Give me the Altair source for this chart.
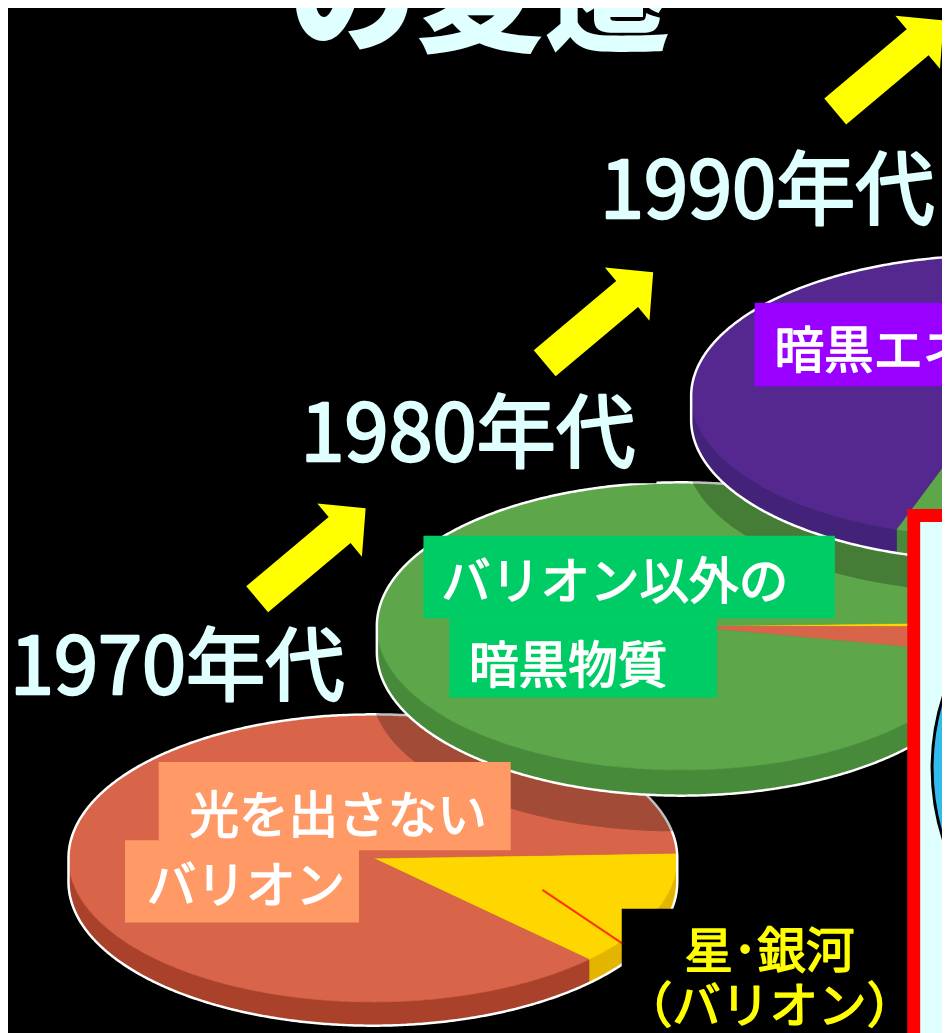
import numpy as np
import pandas as pd
import altair as alt

# ---------------- data ----------------
decades = ["1970年代", "1980年代", "1990年代"]
components = ["星・銀河", "光を出さないバリオン", "バリオン以外の暗黒物質", "暗黒エネルギー"]
share_1970 = [13.0, 87.0, 0.0, 0.0]      # % of the pie
share_1980 = [0.5, 3.0, 96.5, 0.0]
share_1990 = [0.5, 4.5, 25.0, 70.0]
title_tail = "の変遷"
label_dark_baryon = ["光を出さない", "バリオン"]
label_dark_matter = ["バリオン以外の", "暗黒物質"]
label_dark_energy = ["暗黒エネルギー"]
label_stars = ["星･銀河", "（バリオン）"]

shares = [share_1970, share_1980, share_1990]

# ---------------- styles / layout ----------------
TOP = {"星・銀河": "#FFD700", "光を出さないバリオン": "#D8644A",
       "バリオン以外の暗黒物質": "#5DA74A", "暗黒エネルギー": "#55288F"}
SIDE = {"星・銀河": "#E3B400", "光を出さないバリオン": "#A9412B",
        "バリオン以外の暗黒物質": "#468A3A", "暗黒エネルギー": "#43237A"}
PIES = [
    dict(cx=376, cy=861, rx=307, ry=145, depth=24, start=-2.0),
    dict(cx=687, cy=627, rx=307, ry=145, depth=26, start=-1.5),
    dict(cx=1004, cy=395, rx=307, ry=142, depth=24, start=1.0),
]
LIGHT = "#E0FFFF"
FONT = "Noto Sans CJK JP"

XS = alt.Scale(domain=[8, 950], nice=False, zero=False)
YS = alt.Scale(domain=[8, 1033], nice=False, zero=False, reverse=True)


def X(f="x"):
    return alt.X(f"{f}:Q", scale=XS, axis=None)


def Y(f="y"):
    return alt.Y(f"{f}:Q", scale=YS, axis=None)


def arc(p, a0, a1, dy=0.0):
    n = max(2, int(abs(a1 - a0) / 0.5) + 1)
    t = np.radians(np.linspace(a0, a1, n))
    return p["cx"] + p["rx"] * np.cos(t), p["cy"] + p["ry"] * np.sin(t) + dy


def rows(pid, xs, ys, color):
    return [dict(pid=pid, i=j, x=float(a), y=float(b), c=color)
            for j, (a, b) in enumerate(zip(xs, ys))]


def pie_frames(k):
    p = PIES[k]
    vals = np.array(shares[k], dtype=float)
    bounds = p["start"] + 360.0 * np.concatenate([[0], np.cumsum(vals)]) / vals.sum()
    tops, sides = [], []
    for s, comp in enumerate(components):
        if vals[s] <= 0:
            continue
        a0, a1 = bounds[s], bounds[s + 1]
        ax, ay = arc(p, a0, a1)
        tops += rows(f"t{k}{s}", np.r_[p["cx"], ax], np.r_[p["cy"], ay], TOP[comp])
        for off in (-360, 0, 360):
            lo, hi = max(a0 + off, 0), min(a1 + off, 180)
            if hi > lo:
                ux, uy = arc(p, lo, hi)
                bx, by = arc(p, hi, lo, p["depth"])
                sides += rows(f"s{k}{s}{off}", np.r_[ux, bx], np.r_[uy, by], SIDE[comp])
    ux, uy = arc(p, 180, 360)
    bx, by = arc(p, 0, 180, p["depth"])
    outline = rows(f"o{k}", np.r_[ux, bx], np.r_[uy, by], "white")
    return pd.DataFrame(sides), pd.DataFrame(tops), pd.DataFrame(outline)


def poly(df, sw=0.8):
    return alt.Chart(df).mark_line(interpolate="linear-closed", strokeWidth=sw).encode(
        x=X(), y=Y(), detail="pid:N", order="i:Q",
        fill=alt.Fill("c:N", scale=None), stroke=alt.Stroke("c:N", scale=None))


def outline_layer(df):
    return alt.Chart(df).mark_line(interpolate="linear-closed", stroke="white",
                                   strokeWidth=2.5).encode(
        x=X(), y=Y(), detail="pid:N", order="i:Q")


def shadow_layer(df, dx, dy, op):
    d = df.copy()
    d["x"] = d["x"] + dx
    d["y"] = d["y"] + dy
    return alt.Chart(d).mark_line(interpolate="linear-closed", fill="black",
                                  fillOpacity=op, strokeWidth=0).encode(
        x=X(), y=Y(), detail="pid:N", order="i:Q")


def box(x0, x1, y0, y1, color):
    d = pd.DataFrame([dict(x=x0, x2=x1, y=y0, y2=y1)])
    return alt.Chart(d).mark_rect(color=color, opacity=1).encode(
        x=X(), x2="x2:Q", y=Y(), y2="y2:Q")


def text(items, size, color, align="left", weight="bold", thick=0.0):
    d = pd.DataFrame([dict(t=t, x=x, y=y) for t, x, y in items])
    kw = dict(stroke=color, strokeWidth=thick, strokeJoin="round") if thick > 0 else {}
    return alt.Chart(d).mark_text(font=FONT, fontSize=size, fontWeight=weight,
                                  color=color, align=align, baseline="alphabetic",
                                  **kw).encode(
        x=X(), y=Y(), text="t:N")


layers = []
frames = [pie_frames(k) for k in range(3)]
YEAR_SIZE, YEAR_W, YEAR_T = 80, "normal", 2.4

# 1970s pie
s, t, o = frames[0]
layers += [poly(s), poly(t), outline_layer(o)]
layers += [box(0, 368, 612, 715, "black"),
           text([(decades[0], 10, 695)], YEAR_SIZE, LIGHT, weight=YEAR_W, thick=YEAR_T)]

# 1980s pie (casts shadow on 1970s)
s, t, o = frames[1]
layers += [shadow_layer(o, -6, 36, 0.25), poly(s), poly(t), outline_layer(o)]
layers += [box(295, 662, 385, 483, "black"),
           text([(decades[1], 303, 460)], YEAR_SIZE, LIGHT, weight=YEAR_W, thick=YEAR_T)]

# 1990s pie (casts shadow on 1980s)
s, t, o = frames[2]
layers += [shadow_layer(o, -6, 32, 0.25), poly(s), poly(t), outline_layer(o)]
layers += [text([(decades[2], 605, 215)], YEAR_SIZE, LIGHT, weight=YEAR_W, thick=YEAR_T)]

# title fragment
layers += [text([(title_tail, 292, 38)], 128, LIGHT, weight=900)]

# arrows
ARROW = "M -0.24 1 L 0.24 1 L 0.24 -0.52 L 0.49 -0.52 L 0 -1 L -0.49 -0.52 L -0.24 -0.52 Z"
arrows = pd.DataFrame(dict(x=[314, 604, 897], y=[554, 316, 62]))
layers += [alt.Chart(arrows).mark_point(shape=ARROW, size=20400, angle=50, filled=True,
                                        color="#FFFF00", opacity=1, strokeWidth=0).encode(
    x=X(), y=Y())]

# leader line to stars label
lead = pd.DataFrame([dict(x=547, y=893, x2=632, y2=950)])
layers += [alt.Chart(lead).mark_rule(color="#FF3300", strokeWidth=2).encode(
    x=X(), y=Y(), x2="x2:Q", y2="y2:Q")]

# labels on the pies
LBL = 50
LW = "normal"
LT = 1.5
layers += [box(160, 515, 764, 853, "#FF9966"), box(126, 362, 843, 926, "#FF9966"),
           text([(label_dark_baryon[0], 191, 836), (label_dark_baryon[1], 148, 906)],
                LBL, "white", weight=LW, thick=LT)]
layers += [box(427, 842, 536, 619, "#00CC66"), box(453, 723, 619, 699, "#00CC66"),
           text([(label_dark_matter[0], 445, 600), (label_dark_matter[1], 473, 684)],
                LBL, "white", weight=LW, thick=LT)]
layers += [box(761, 960, 301, 385, "#9900FF"),
           text([(label_dark_energy[0], 781, 367)], LBL, "white", weight=LW, thick=LT)]
layers += [box(627, 915, 912, 1040, "black"),
           text([(label_stars[0], 776, 972), (label_stars[1], 776, 1027)], 49, "#FFFF00",
                align="center", weight=LW, thick=LT)]

# red framed panel at right edge
layers += [box(915, 960, 509, 1040, "#FF0000"), box(928, 960, 522, 1040, LIGHT)]
circle = pd.DataFrame(dict(x=[1175], y=[770]))
layers += [alt.Chart(circle).mark_point(shape="circle", size=220900, filled=True,
                                        color="#33BBEE", opacity=1, stroke="black",
                                        strokeWidth=3).encode(x=X(), y=Y())]

chart = alt.layer(*layers).properties(
    width=942, height=1025, autosize="none", padding=0, background="#000000"
).configure_view(strokeWidth=0)

chart.save("out.html", embed_options={"renderer": "svg", "actions": False})
